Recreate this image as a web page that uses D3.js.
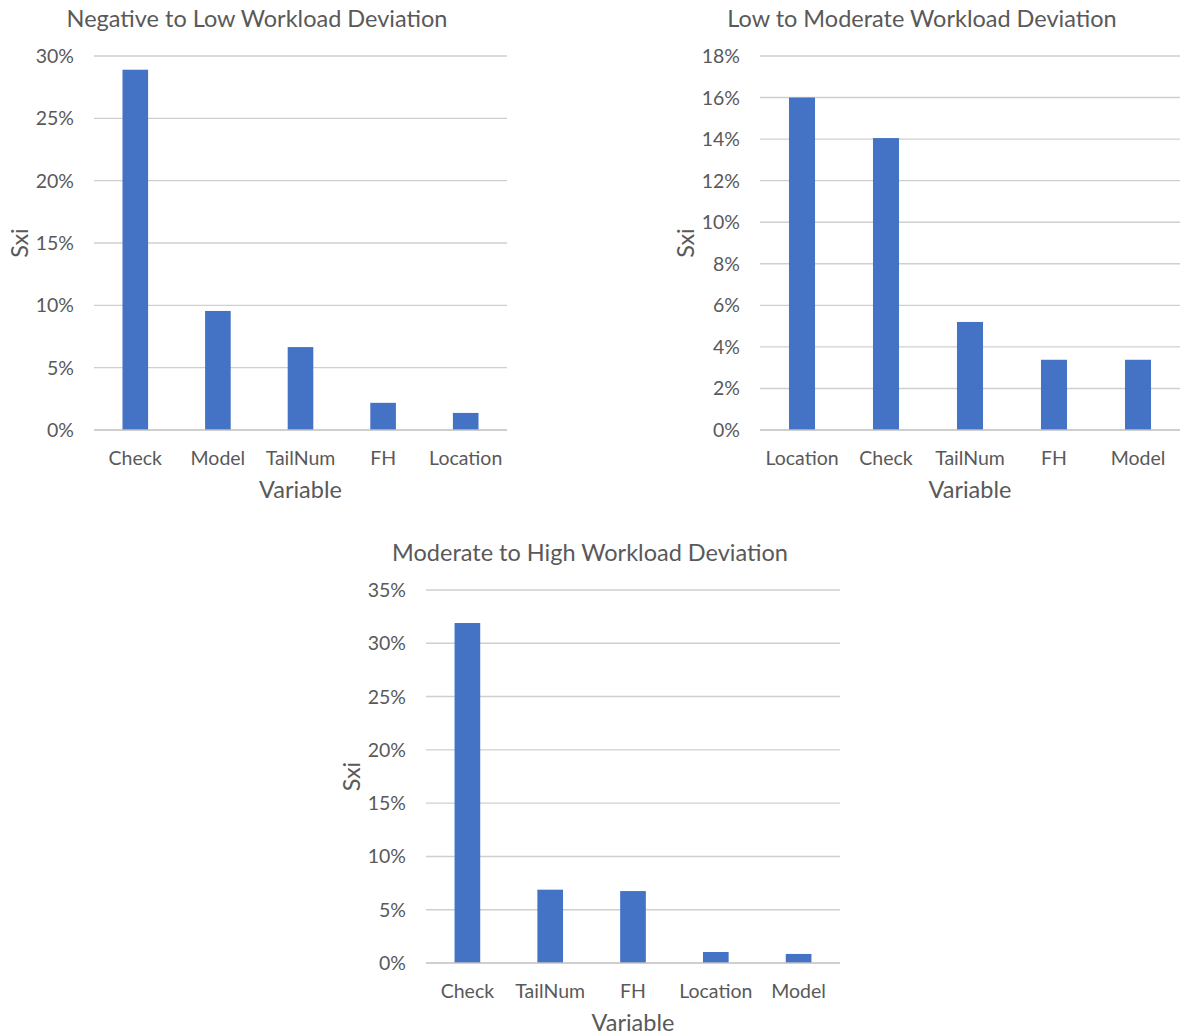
<!DOCTYPE html>
<html>
<head>
<meta charset="utf-8">
<script src="https://cdn.jsdelivr.net/npm/d3@7"></script>
<style>
  html, body { margin: 0; padding: 0; background: #fff; }
  svg text { font-family: Lato, "Open Sans", sans-serif; fill: #595959; }
</style>
</head>
<body>
<svg id="chart" width="1181" height="1036"></svg>
<script>
// Sensitivity index (Sxi) per input variable, one panel per workload deviation class
const negLowCategories = ["Check", "Model", "TailNum", "FH", "Location"];
const negLowValues = [0.289, 0.0955, 0.0665, 0.0218, 0.0137];

const lowModCategories = ["Location", "Check", "TailNum", "FH", "Model"];
const lowModValues = [0.160, 0.1405, 0.052, 0.0338, 0.0338];

const modHighCategories = ["Check", "TailNum", "FH", "Location", "Model"];
const modHighValues = [0.319, 0.0688, 0.0675, 0.0103, 0.0085];

const negLowTicks = [0, 0.05, 0.10, 0.15, 0.20, 0.25, 0.30];
const lowModTicks = [0, 0.02, 0.04, 0.06, 0.08, 0.10, 0.12, 0.14, 0.16, 0.18];
const modHighTicks = [0, 0.05, 0.10, 0.15, 0.20, 0.25, 0.30, 0.35];

const svg = d3.select("#chart");

function panel(opts) {
  const { title, categories, values, ticks, left, top, width, height, titleX } = opts;
  const g = svg.append("g");
  const x = d3.scaleBand().domain(categories).range([left, left + width]).paddingInner(0.69).paddingOuter(0.345);
  const y = d3.scaleLinear().domain([0, ticks[ticks.length - 1]]).range([top + height, top]);

  // gridlines
  g.selectAll("line.grid").data(ticks.slice(1)).join("line")
    .attr("x1", left).attr("x2", left + width)
    .attr("y1", d => y(d)).attr("y2", d => y(d))
    .attr("stroke", "#cfcfcf").attr("stroke-width", 1.4);

  // y tick labels
  g.selectAll("text.ytick").data(ticks).join("text")
    .attr("x", left - 20).attr("y", d => y(d)).attr("dy", "0.36em")
    .attr("text-anchor", "end").attr("font-size", 19.5)
    .text(d => d3.format(".0%")(d));

  // bars
  g.selectAll("rect.bar").data(values).join("rect")
    .attr("x", (d, i) => x(categories[i]))
    .attr("width", x.bandwidth())
    .attr("y", d => y(d))
    .attr("height", d => y(0) - y(d))
    .attr("fill", "#4472c4");

  // baseline
  g.append("line")
    .attr("x1", left).attr("x2", left + width)
    .attr("y1", y(0)).attr("y2", y(0))
    .attr("stroke", "#bfbfbf").attr("stroke-width", 1.4);

  // category labels
  g.selectAll("text.xtick").data(categories).join("text")
    .attr("x", d => x(d) + x.bandwidth() / 2).attr("y", top + height + 35)
    .attr("text-anchor", "middle").attr("font-size", 19.5)
    .text(d => d);

  // axis titles
  g.append("text")
    .attr("x", left + width / 2).attr("y", top + height + 68)
    .attr("text-anchor", "middle").attr("font-size", 23.5)
    .text("Variable");
  g.append("text")
    .attr("transform", `translate(${left - 66},${top + height / 2}) rotate(-90)`)
    .attr("text-anchor", "middle").attr("font-size", 23.5)
    .text("Sxi");

  // chart title
  g.append("text")
    .attr("x", titleX).attr("y", top - 29)
    .attr("text-anchor", "middle").attr("font-size", 23.5)
    .text(title);
}

panel({ title: "Negative to Low Workload Deviation", categories: negLowCategories, values: negLowValues,
        ticks: negLowTicks, left: 94, top: 56, width: 413, height: 374, titleX: 257 });
panel({ title: "Low to Moderate Workload Deviation", categories: lowModCategories, values: lowModValues,
        ticks: lowModTicks, left: 760, top: 56, width: 420, height: 374, titleX: 922 });
panel({ title: "Moderate to High Workload Deviation", categories: modHighCategories, values: modHighValues,
        ticks: modHighTicks, left: 426, top: 590, width: 414, height: 373, titleX: 590 });
</script>
</body>
</html>
